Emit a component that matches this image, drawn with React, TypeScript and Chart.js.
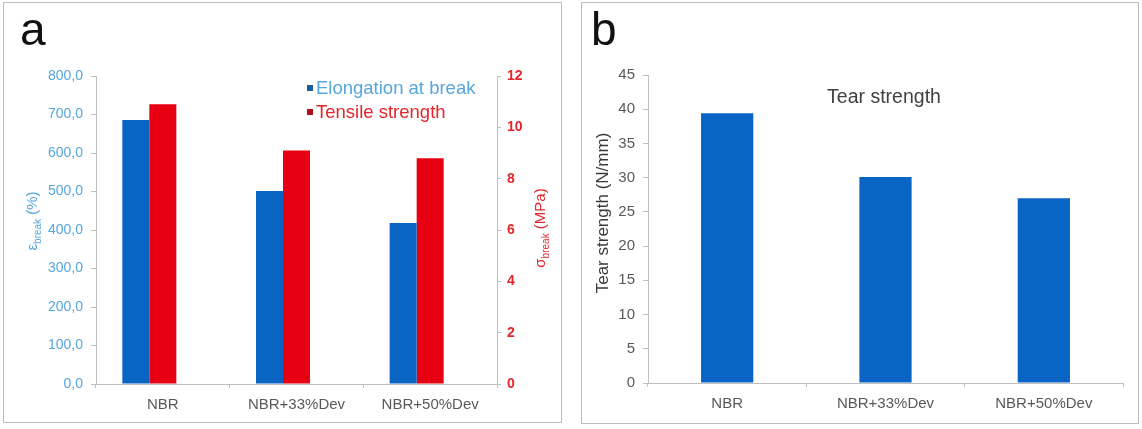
import React, { useEffect, useRef } from 'react';
import { Chart, registerables } from 'chart.js';

Chart.register(...registerables);

const CATEGORIES = ['NBR', 'NBR+33%Dev', 'NBR+50%Dev'];
const ELONGATION = [686, 501, 418];
const TENSILE = [10.9, 9.1, 8.8];
const SPACER = [0, 0, 0];
const TEAR = [39.4, 30.1, 27.0];
const ELONG_TICKS = ['0,0', '100,0', '200,0', '300,0', '400,0', '500,0', '600,0', '700,0', '800,0'];
const TENSILE_TICKS = ['0', '2', '4', '6', '8', '10', '12'];
const TEAR_TICKS = ['0', '5', '10', '15', '20', '25', '30', '35', '40', '45'];
const LEGEND_A = ['Elongation at break', 'Tensile strength'];

const FONT = "'Liberation Sans', Arial, sans-serif";
const AXIS = '#bfbfbf';
const BLUE = '#0a64c4';
const RED = '#e60012';
const BLUE_TXT = '#57a6dc';
const RED_TXT = '#e4262c';
const GRAY_TXT = '#595959';

function PanelA() {
  const ref = useRef<HTMLCanvasElement>(null);
  useEffect(() => {
    const chart = new Chart(ref.current!, {
      type: 'bar',
      data: {
        labels: CATEGORIES,
        datasets: [
          { label: LEGEND_A[0], data: ELONGATION, yAxisID: 'y', backgroundColor: BLUE, barPercentage: 1, categoryPercentage: 0.606 },
          { label: LEGEND_A[1], data: TENSILE, yAxisID: 'y1', backgroundColor: RED, barPercentage: 1, categoryPercentage: 0.606 },
          { label: 'spacer', data: SPACER, yAxisID: 'y', backgroundColor: '#808080', barPercentage: 1, categoryPercentage: 0.606 },
        ],
      },
      options: {
        animation: false,
        responsive: false,
        devicePixelRatio: 1,
        layout: { padding: { top: 76, left: 0, right: 0, bottom: 0 } },
        plugins: { legend: { display: false }, tooltip: { enabled: false } },
        scales: {
          x: {
            grid: { display: true, drawOnChartArea: false, drawTicks: true, tickLength: 4, tickColor: AXIS, color: AXIS },
            border: { display: true, color: AXIS },
            ticks: { color: GRAY_TXT, font: { family: FONT, size: 15 }, padding: 8, maxRotation: 0, autoSkip: false },
            afterFit: (s: any) => { s.height = 45; },
          },
          y: {
            position: 'left',
            min: 0,
            max: 800,
            grid: { display: true, drawOnChartArea: false, drawTicks: true, tickLength: 5, tickColor: AXIS, color: AXIS },
            border: { display: true, color: AXIS },
            ticks: { stepSize: 100, color: BLUE_TXT, font: { family: FONT, size: 14 }, padding: 8, callback: (_v: any, i: number) => ELONG_TICKS[i] },
            afterFit: (s: any) => { s.width = 96; },
          },
          y1: {
            position: 'right',
            min: 0,
            max: 12,
            grid: { display: true, drawOnChartArea: false, drawTicks: true, tickLength: 4, tickColor: AXIS, color: AXIS },
            border: { display: true, color: AXIS },
            ticks: { stepSize: 2, color: RED_TXT, font: { family: FONT, size: 14, weight: 'bold' }, padding: 6, callback: (_v: any, i: number) => TENSILE_TICKS[i] },
            afterFit: (s: any) => { s.width = 73; },
          },
        },
      } as any,
    });
    return () => chart.destroy();
  }, []);
  return <canvas ref={ref} width={570} height={429} style={{ position: 'absolute', left: 0, top: 0, width: 570, height: 429 }} />;
}

function PanelB() {
  const ref = useRef<HTMLCanvasElement>(null);
  useEffect(() => {
    const chart = new Chart(ref.current!, {
      type: 'bar',
      data: {
        labels: CATEGORIES,
        datasets: [
          { label: 'Tear strength', data: TEAR, backgroundColor: BLUE, barPercentage: 0.33, categoryPercentage: 1 },
        ],
      },
      options: {
        animation: false,
        responsive: false,
        devicePixelRatio: 1,
        layout: { padding: { top: 75, left: 0, right: 17, bottom: 0 } },
        plugins: { legend: { display: false }, tooltip: { enabled: false } },
        scales: {
          x: {
            grid: { display: true, drawOnChartArea: false, drawTicks: true, tickLength: 4, tickColor: AXIS, color: AXIS },
            border: { display: true, color: AXIS },
            ticks: { color: GRAY_TXT, font: { family: FONT, size: 15 }, padding: 8, maxRotation: 0, autoSkip: false },
            afterFit: (s: any) => { s.height = 46; },
          },
          y: {
            position: 'left',
            min: 0,
            max: 45,
            grid: { display: true, drawOnChartArea: false, drawTicks: true, tickLength: 5, tickColor: AXIS, color: AXIS },
            border: { display: true, color: AXIS },
            ticks: { stepSize: 5, color: GRAY_TXT, font: { family: FONT, size: 15 }, padding: 8, callback: (_v: any, i: number) => TEAR_TICKS[i] },
            afterFit: (s: any) => { s.width = 66; },
          },
        },
      } as any,
    });
    return () => chart.destroy();
  }, []);
  return <canvas ref={ref} width={558} height={429} style={{ position: 'absolute', left: 582, top: 0, width: 558, height: 429 }} />;
}

const abs = (o: React.CSSProperties): React.CSSProperties => ({ position: 'absolute', ...o });

export default function App() {
  const rot = (cx: number, cy: number, color: string, size: number): React.CSSProperties =>
    abs({ left: cx, top: cy, transform: 'translate(-50%, -50%) rotate(-90deg)', whiteSpace: 'nowrap', color, fontSize: size, fontFamily: FONT, lineHeight: 1 });
  return (
    <div style={{ position: 'fixed', left: 0, top: 0, width: 1142, height: 429, background: '#fff', overflow: 'hidden', fontFamily: FONT }}>
      <div style={abs({ left: 3, top: 2, width: 557, height: 419, border: '1px solid #bdbdbd' })} />
      <div style={abs({ left: 581, top: 2, width: 556, height: 420, border: '1px solid #bdbdbd' })} />
      <PanelA />
      <PanelB />
      <div style={abs({ left: 20, top: 6, fontSize: 46, lineHeight: '46px', color: '#111' })}>a</div>
      <div style={abs({ left: 591, top: 6, fontSize: 46, lineHeight: '46px', color: '#111' })}>b</div>
      <div style={rot(33, 221, BLUE_TXT, 15)}>
        ε<sub style={{ fontSize: 10 }}>break</sub> (%)
      </div>
      <div style={rot(541, 228, RED_TXT, 15)}>
        σ<sub style={{ fontSize: 10 }}>break</sub> (MPa)
      </div>
      <div style={rot(602, 213, '#3a3a3a', 17)}>Tear strength (N/mm)</div>
      <div style={abs({ left: 884, top: 96, transform: 'translate(-50%, -50%)', fontSize: 19.5, color: '#404040', whiteSpace: 'nowrap' })}>
        Tear strength
      </div>
      <div style={abs({ left: 307, top: 76, fontSize: 18.5, lineHeight: '24px', whiteSpace: 'nowrap' })}>
        <div style={{ display: 'flex', alignItems: 'center', color: BLUE_TXT }}>
          <span style={{ display: 'inline-block', width: 6, height: 6, background: '#1a5f96', marginRight: 3 }} />
          {LEGEND_A[0]}
        </div>
        <div style={{ display: 'flex', alignItems: 'center', color: RED_TXT }}>
          <span style={{ display: 'inline-block', width: 6, height: 6, background: '#b0101c', marginRight: 3 }} />
          {LEGEND_A[1]}
        </div>
      </div>
    </div>
  );
}
